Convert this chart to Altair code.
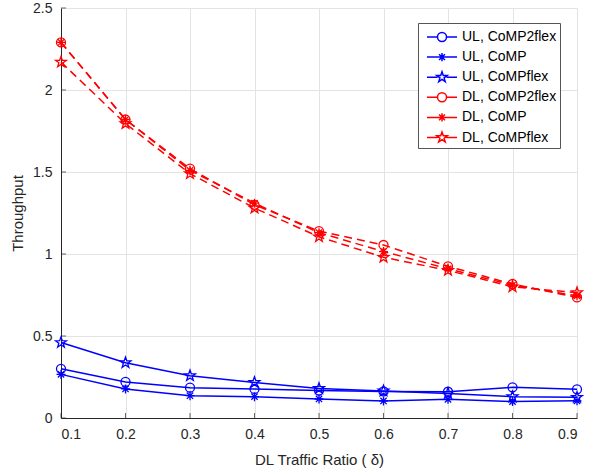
import math
import altair as alt
import pandas as pd

# ---- data ----
ratio = [0.1, 0.2, 0.3, 0.4, 0.5, 0.6, 0.7, 0.8, 0.9]
y_ticks = [0, 0.5, 1, 1.5, 2, 2.5]
ul_comp2flex = [0.30, 0.22, 0.185, 0.177, 0.167, 0.162, 0.16, 0.187, 0.175]
ul_comp = [0.266, 0.177, 0.136, 0.13, 0.116, 0.104, 0.114, 0.10, 0.105]
ul_compflex = [0.46, 0.337, 0.258, 0.217, 0.18, 0.165, 0.15, 0.13, 0.126]
dl_comp2flex = [2.29, 1.82, 1.52, 1.30, 1.14, 1.055, 0.925, 0.817, 0.735]
dl_comp = [2.29, 1.82, 1.51, 1.31, 1.13, 1.015, 0.91, 0.81, 0.745]
dl_compflex = [2.17, 1.795, 1.49, 1.28, 1.105, 0.98, 0.90, 0.80, 0.764]

series_names = ["UL, CoMP2flex", "UL, CoMP", "UL, CoMPflex",
                "DL, CoMP2flex", "DL, CoMP", "DL, CoMPflex"]
series_values = [ul_comp2flex, ul_comp, ul_compflex, dl_comp2flex, dl_comp, dl_compflex]
series_colors = ["#0000ff", "#0000ff", "#0000ff", "#ff0000", "#ff0000", "#ff0000"]
series_marker = ["circle", "asterisk", "star", "circle", "asterisk", "star"]
series_dir = ["UL", "UL", "UL", "DL", "DL", "DL"]

rows = []
for name, vals, col, mk, d in zip(series_names, series_values, series_colors, series_marker, series_dir):
    for xv, yv in zip(ratio, vals):
        rows.append({"ratio": xv, "thr": yv, "series": name, "color": col, "marker": mk, "dir": d})
df = pd.DataFrame(rows)

# ---- marker shapes ----
def star_path(cx=0.0, R=1.0, r=0.4):
    pts = []
    for k in range(10):
        ang = math.radians(-90 + 36 * k)
        rad = R if k % 2 == 0 else r
        pts.append((cx + rad * math.cos(ang), rad * math.sin(ang)))
    return "M" + "L".join(f"{px:.3f},{py:.3f}" for px, py in pts) + "Z"

def circle_path(cx=0.0, r=1.0):
    return (f"M{cx + r:.3f},0A{r},{r} 0 1,1 {cx - r:.3f},0"
            f"A{r},{r} 0 1,1 {cx + r:.3f},0")

def asterisk_path(cx=0.0, r=1.0):
    d = r * 0.7
    return (f"M{cx - r:.3f},0L{cx + r:.3f},0M{cx:.3f},{-r}L{cx:.3f},{r}"
            f"M{cx - d:.3f},{-d:.3f}L{cx + d:.3f},{d:.3f}"
            f"M{cx - d:.3f},{d:.3f}L{cx + d:.3f},{-d:.3f}")

STAR = star_path()
CIRCLE = circle_path()
AST = asterisk_path()

# legend symbols: line + marker (unit = 10 px with symbolSize 400)
def leg(marker_path, mr):
    c = 0.5
    return f"M-1,0L{c - mr:.2f},0M{c + mr:.2f},0L2,0" + marker_path
leg_paths = [
    leg(circle_path(0.5, 0.45), 0.45),
    leg(asterisk_path(0.5, 0.42), 0.42),
    leg(star_path(0.5, 0.55, 0.22), 0.45),
    leg(circle_path(0.5, 0.45), 0.45),
    leg(asterisk_path(0.5, 0.42), 0.42),
    leg(star_path(0.5, 0.55, 0.22), 0.45),
]

xs = alt.Scale(domain=[0.1, 0.9], nice=False)
ys = alt.Scale(domain=[0, 2.5], nice=False)
X = alt.X("ratio:Q", scale=xs,
          axis=alt.Axis(values=ratio, format=".1f", title="DL Traffic Ratio ( δ)"))
Y = alt.Y("thr:Q", scale=ys,
          axis=alt.Axis(values=y_ticks, title="Throughput",
                        labelExpr="datum.value == 0 ? '0' : format(datum.value, '~g')"))

base = alt.Chart(df)

ul_lines = base.transform_filter("datum.dir == 'UL'").mark_line(strokeWidth=1.5).encode(
    x=X, y=Y, detail="series:N", stroke=alt.Stroke("color:N", scale=None))
dl_lines = base.transform_filter("datum.dir == 'DL'").mark_line(
    strokeWidth=1.5, strokeDash=[8, 5]).encode(
    x=X, y=Y, detail="series:N", stroke=alt.Stroke("color:N", scale=None))

def pts(marker, shape, size):
    return base.transform_filter(f"datum.marker == '{marker}'").mark_point(
        shape=shape, size=size, filled=False, strokeWidth=1.3, opacity=1).encode(
        x=X, y=Y, stroke=alt.Stroke("color:N", scale=None))

p_circ = pts("circle", CIRCLE, 81)
p_ast = pts("asterisk", AST, 81)
p_star = pts("star", STAR, 130)

# inward tick marks (MATLAB style)
yt = alt.Chart(pd.DataFrame({"thr": y_ticks})).mark_tick(
    orient="horizontal", color="#262626", thickness=1, size=5).encode(
    y=alt.Y("thr:Q", scale=ys), x=alt.value(2.5))
xt = alt.Chart(pd.DataFrame({"ratio": ratio})).mark_tick(
    orient="vertical", color="#262626", thickness=1, size=5).encode(
    x=alt.X("ratio:Q", scale=xs), y=alt.value(407.5))

legend_layer = base.mark_point(filled=False, opacity=0).encode(
    x=X, y=Y,
    color=alt.Color("series:N",
                    scale=alt.Scale(domain=series_names, range=series_colors),
                    legend=alt.Legend(title=None, orient="none", legendX=357, legendY=15,
                                      symbolSize=400, symbolStrokeWidth=1.5,
                                      symbolOpacity=1, labelFontSize=14,
                                      labelOffset=14, symbolOffset=5,
                                      labelColor="#000000", labelLimit=101,
                                      padding=3, rowPadding=1.1,
                                      strokeColor="#555555", fillColor="#ffffff")),
    shape=alt.Shape("series:N", scale=alt.Scale(domain=series_names, range=leg_paths)),
)

chart = alt.layer(yt, xt, ul_lines, dl_lines, p_circ, p_ast, p_star, legend_layer).properties(
    width=516, height=410,
    autosize=alt.AutoSizeParams(type="none"),
    padding={"left": 61, "top": 8, "right": 13, "bottom": 53},
).configure(
    font="Liberation Sans",
).configure_view(
    stroke=None,
).configure_axis(
    labelFont="Liberation Sans", titleFont="Liberation Sans",
    labelFontSize=14, titleFontSize=15, titleFontWeight="normal",
    labelColor="#262626", titleColor="#262626",
    domainColor="#262626", domainWidth=1,
    gridColor="#e3e3e3", gridWidth=1,
    ticks=False, labelPadding=6,
).configure_axisY(
    labelPadding=9, titlePadding=7,
).configure_axisX(
    labelPadding=9, titlePadding=11,
).configure_legend(
    labelFont="Liberation Sans",
)

chart.save("out.html", embed_options={"renderer": "svg", "actions": False})
